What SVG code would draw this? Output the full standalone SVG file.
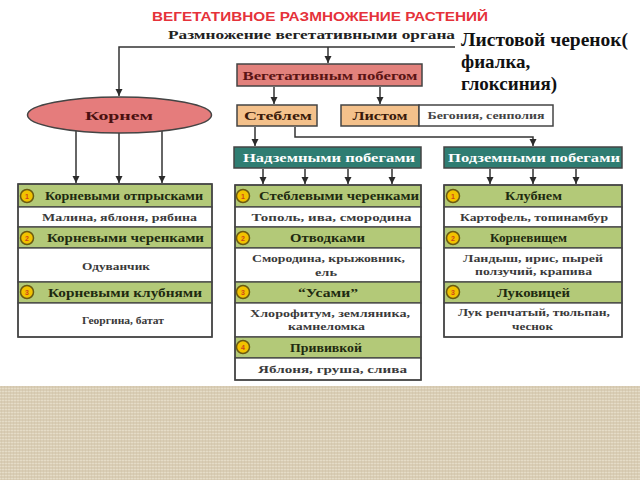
<svg xmlns="http://www.w3.org/2000/svg" width="640" height="480" viewBox="0 0 640 480">
<defs>
<marker id="arr" markerUnits="userSpaceOnUse" markerWidth="8" markerHeight="8" refX="7" refY="4" orient="auto">
<path d="M0,0.5 L7,4 L0,7.5 z" fill="#2b2b2b"/>
</marker>
<pattern id="linen" width="6" height="6" patternUnits="userSpaceOnUse">
<rect width="6" height="6" fill="#d9cdb5"/>
<path d="M0,1.5 H6 M0,4.5 H6" stroke="#e8dfcc" stroke-width="0.8"/>
<path d="M1.5,0 V6 M4.5,0 V6" stroke="#c9bb9f" stroke-width="0.6" opacity="0.6"/>
</pattern>
<style>
.t{font-family:"Liberation Serif","DejaVu Serif",serif;font-weight:bold;text-anchor:middle}
.h{font-size:11.5px;fill:#1e2a10}
.w{font-size:10.5px;fill:#3a3a3a}
.grn{fill:#b3c978;stroke:#444;stroke-width:1.3}
.wht{fill:#fff;stroke:#444;stroke-width:1.3}
.num{fill:#f2c200;stroke:#6b5a10;stroke-width:1.5}
.nt{font-family:"Liberation Sans",sans-serif;font-size:7px;font-weight:bold;fill:#d0451b;text-anchor:middle}
.c{fill:none;stroke:#333;stroke-width:1.5;marker-end:url(#arr)}
.box{stroke:#444;stroke-width:1.5}
</style>
</defs>
<rect width="640" height="480" fill="#fff"/>
<rect x="0" y="386" width="640" height="94" fill="url(#linen)"/>

<g id="title">
<text x="320" y="21" font-family="Liberation Sans,Arial,sans-serif" font-weight="bold" font-size="13" fill="#e5323a" text-anchor="middle" textLength="336" lengthAdjust="spacingAndGlyphs">ВЕГЕТАТИВНОЕ РАЗМНОЖЕНИЕ РАСТЕНИЙ</text>
<text x="168" y="39" class="t" style="text-anchor:start;font-size:13px;fill:#222" textLength="287" lengthAdjust="spacingAndGlyphs">Размножение вегетативными органа</text>
</g>

<g id="connectors">
<path class="c" d="M455,47 H119 V96"/>
<path class="c" d="M328,47 V63"/>
<path class="c" d="M274,87 V104"/>
<path class="c" d="M380,87 V104"/>
<path class="c" d="M255,127 V146"/>
<path class="c" d="M295,127 V137 H533 V146"/>
<path class="c" d="M76,131 V183"/>
<path class="c" d="M119,133 V183"/>
<path class="c" d="M162,131 V183"/>
<path class="c" d="M263,169 V184"/>
<path class="c" d="M305,169 V184"/>
<path class="c" d="M348,169 V184"/>
<path class="c" d="M392,169 V184"/>
<path class="c" d="M490,169 V184"/>
<path class="c" d="M533,169 V184"/>
<path class="c" d="M576,169 V184"/>
</g>

<g id="veg-pobeg">
<rect x="237" y="64" width="185" height="22" fill="#e2817c" class="box"/>
<text x="330" y="80" class="t" style="font-size:12px;fill:#5a1414" textLength="175" lengthAdjust="spacingAndGlyphs">Вегетативным побегом</text>
</g>

<g id="kornem">
<ellipse cx="119.5" cy="115" rx="92" ry="18" fill="#e57c7c" class="box"/>
<text x="119" y="120" class="t" style="font-size:13px;fill:#4a1010" textLength="68" lengthAdjust="spacingAndGlyphs">Корнем</text>
</g>

<g id="steblem">
<rect x="237" y="105" width="80" height="21" fill="#f4c18b" class="box"/>
<text x="278" y="120" class="t" style="font-size:12px;fill:#3a1a0a" textLength="68" lengthAdjust="spacingAndGlyphs">Стеблем</text>
</g>

<g id="listom">
<rect x="341" y="105" width="78" height="21" fill="#f4c18b" class="box"/>
<rect x="419" y="105" width="134" height="21" fill="#fff" class="box"/>
<text x="380" y="120" class="t" style="font-size:12px;fill:#3a1a0a" textLength="55" lengthAdjust="spacingAndGlyphs">Листом</text>
<text x="486" y="119" class="t" style="font-size:10px;fill:#444" textLength="117" lengthAdjust="spacingAndGlyphs">Бегония, сенполия</text>
</g>

<g id="nadzem">
<rect x="234" y="147" width="187" height="21" fill="#2f7d72" class="box"/>
<text x="329" y="162" class="t" style="font-size:12px;fill:#fff" textLength="172" lengthAdjust="spacingAndGlyphs">Надземными побегами</text>
</g>

<g id="podzem">
<rect x="444" y="147" width="178" height="21" fill="#2f7d72" class="box"/>
<text x="534" y="162" class="t" style="font-size:12px;fill:#fff" textLength="172" lengthAdjust="spacingAndGlyphs">Подземными побегами</text>
</g>

<g id="left-list">
<rect x="18" y="184" width="194" height="23" class="grn"/>
<rect x="18" y="207" width="194" height="20" class="wht"/>
<rect x="18" y="227" width="194" height="21" class="grn"/>
<rect x="18" y="248" width="194" height="34" class="wht"/>
<rect x="18" y="282" width="194" height="21" class="grn"/>
<rect x="18" y="303" width="194" height="34" class="wht"/>
<rect x="18" y="184" width="194" height="153" fill="none" class="box"/>
<circle cx="27" cy="196" r="6.5" class="num"/><text x="27" y="198.5" class="nt">1</text>
<circle cx="27" cy="238" r="6.5" class="num"/><text x="27" y="240.5" class="nt">2</text>
<circle cx="27" cy="292" r="6.5" class="num"/><text x="27" y="294.5" class="nt">3</text>
<text x="124" y="200" class="t h" textLength="158" lengthAdjust="spacingAndGlyphs">Корневыми отпрысками</text>
<text x="119.5" y="221" class="t w" textLength="155" lengthAdjust="spacingAndGlyphs">Малина, яблоня, рябина</text>
<text x="125.5" y="242" class="t h" textLength="157" lengthAdjust="spacingAndGlyphs">Корневыми черенками</text>
<text x="116" y="270" class="t w" textLength="68" lengthAdjust="spacingAndGlyphs">Одуванчик</text>
<text x="125" y="297" class="t h" textLength="154" lengthAdjust="spacingAndGlyphs">Корневыми клубнями</text>
<text x="123" y="324" class="t w" textLength="82" lengthAdjust="spacingAndGlyphs">Георгина, батат</text>
</g>

<g id="mid-list">
<rect x="235" y="185" width="186" height="22" class="grn"/>
<rect x="235" y="207" width="186" height="20" class="wht"/>
<rect x="235" y="227" width="186" height="21" class="grn"/>
<rect x="235" y="248" width="186" height="34" class="wht"/>
<rect x="235" y="282" width="186" height="21" class="grn"/>
<rect x="235" y="303" width="186" height="34" class="wht"/>
<rect x="235" y="337" width="186" height="21" class="grn"/>
<rect x="235" y="358" width="186" height="22" class="wht"/>
<rect x="235" y="185" width="186" height="195" fill="none" class="box"/>
<circle cx="243" cy="196" r="6.5" class="num"/><text x="243" y="198.5" class="nt">1</text>
<circle cx="243" cy="238" r="6.5" class="num"/><text x="243" y="240.5" class="nt">2</text>
<circle cx="243" cy="292" r="6.5" class="num"/><text x="243" y="294.5" class="nt">3</text>
<circle cx="243" cy="347" r="6.5" class="num"/><text x="243" y="349.5" class="nt">4</text>
<text x="339" y="200" class="t h" textLength="160" lengthAdjust="spacingAndGlyphs">Стеблевыми черенками</text>
<text x="331.5" y="221" class="t w" textLength="160" lengthAdjust="spacingAndGlyphs">Тополь, ива, смородина</text>
<text x="327.5" y="242" class="t h" textLength="75" lengthAdjust="spacingAndGlyphs">Отводками</text>
<text x="328.5" y="262" class="t w" textLength="153" lengthAdjust="spacingAndGlyphs">Смородина, крыжовник,</text>
<text x="326" y="276" class="t w" textLength="22" lengthAdjust="spacingAndGlyphs">ель</text>
<text x="328" y="297" class="t h" textLength="60" lengthAdjust="spacingAndGlyphs">“Усами”</text>
<text x="330" y="317" class="t w" textLength="160" lengthAdjust="spacingAndGlyphs">Хлорофитум, земляника,</text>
<text x="326.5" y="330" class="t w" textLength="77" lengthAdjust="spacingAndGlyphs">камнеломка</text>
<text x="326" y="352" class="t h" textLength="72" lengthAdjust="spacingAndGlyphs">Прививкой</text>
<text x="332.5" y="373" class="t w" textLength="149" lengthAdjust="spacingAndGlyphs">Яблоня, груша, слива</text>
</g>

<g id="right-list">
<rect x="444" y="185" width="178" height="22" class="grn"/>
<rect x="444" y="207" width="178" height="20" class="wht"/>
<rect x="444" y="227" width="178" height="21" class="grn"/>
<rect x="444" y="248" width="178" height="34" class="wht"/>
<rect x="444" y="282" width="178" height="21" class="grn"/>
<rect x="444" y="303" width="178" height="34" class="wht"/>
<rect x="444" y="185" width="178" height="152" fill="none" class="box"/>
<circle cx="453" cy="196" r="6.5" class="num"/><text x="453" y="198.5" class="nt">1</text>
<circle cx="453" cy="238" r="6.5" class="num"/><text x="453" y="240.5" class="nt">2</text>
<circle cx="453" cy="292" r="6.5" class="num"/><text x="453" y="294.5" class="nt">3</text>
<text x="533.5" y="200" class="t h" textLength="57" lengthAdjust="spacingAndGlyphs">Клубнем</text>
<text x="534" y="221" class="t w" textLength="148" lengthAdjust="spacingAndGlyphs">Картофель, топинамбур</text>
<text x="528.5" y="242" class="t h" textLength="77" lengthAdjust="spacingAndGlyphs">Корневищем</text>
<text x="533" y="262" class="t w" textLength="140" lengthAdjust="spacingAndGlyphs">Ландыш, ирис, пырей</text>
<text x="533.5" y="275" class="t w" textLength="117" lengthAdjust="spacingAndGlyphs">ползучий, крапива</text>
<text x="533.5" y="297" class="t h" textLength="73" lengthAdjust="spacingAndGlyphs">Луковицей</text>
<text x="534" y="316" class="t w" textLength="152" lengthAdjust="spacingAndGlyphs">Лук репчатый, тюльпан,</text>
<text x="532.5" y="330" class="t w" textLength="41" lengthAdjust="spacingAndGlyphs">чеснок</text>
</g>

<g id="note">
<rect x="456" y="28" width="184" height="70" fill="#fff"/>
<text font-family="Liberation Serif,DejaVu Serif,serif" font-weight="bold" font-size="19" fill="#111">
<tspan x="461" y="46" textLength="167" lengthAdjust="spacingAndGlyphs">Листовой черенок(</tspan>
<tspan x="461" y="68">фиалка,</tspan>
<tspan x="461" y="90">глоксиния)</tspan>
</text>
</g>
</svg>
